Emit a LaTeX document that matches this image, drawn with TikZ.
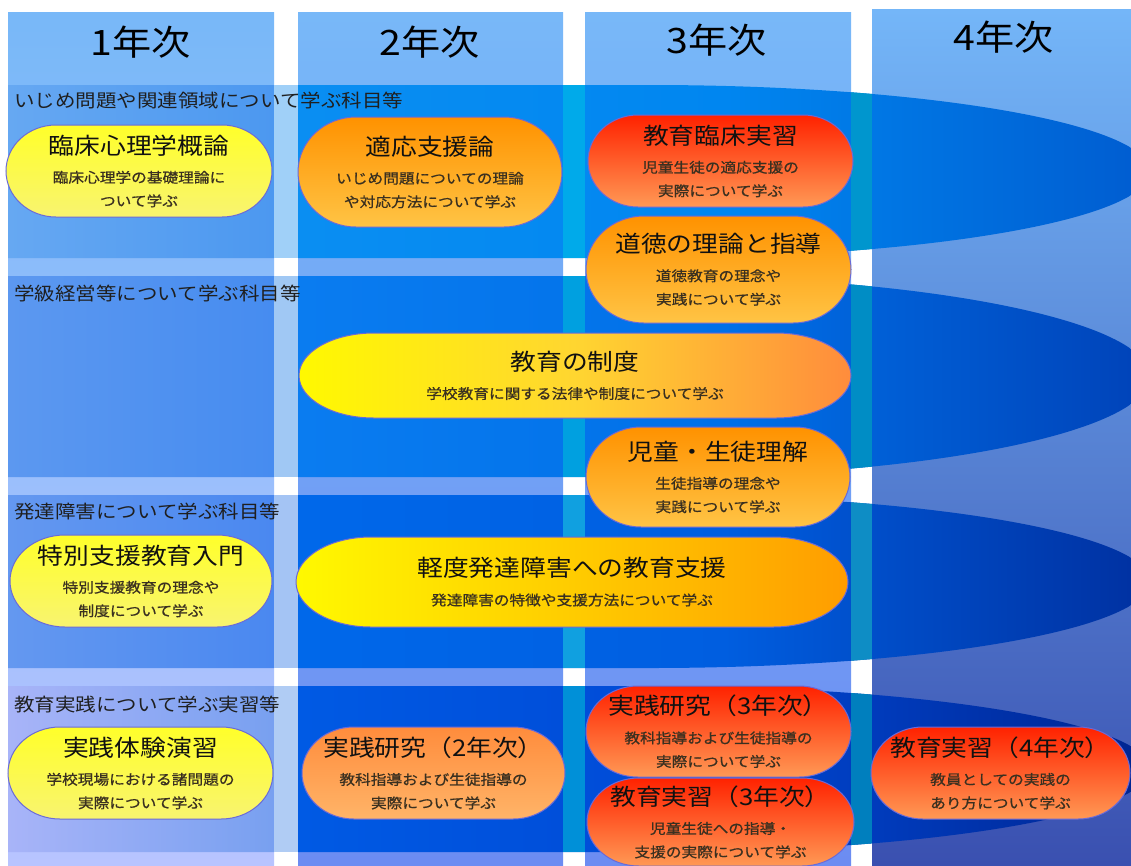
\documentclass[tikz,border=0pt]{standalone}
\usepackage{fontspec}
\setmainfont[FakeStretch=1.12]{Noto Sans CJK JP}
\newfontfamily\subfam[FakeStretch=1.12,FakeBold=0.8]{Noto Sans CJK JP}
\usetikzlibrary{calc}
\definecolor{colT}{HTML}{78B8F8}
\definecolor{colOneB}{HTML}{B8C4FF}
\definecolor{colMidB}{HTML}{6C8CF2}
\definecolor{colFourT}{HTML}{74B6F8}
\definecolor{colFourB}{HTML}{3A50B0}
\definecolor{bord}{HTML}{6A6AD8}
\definecolor{titlec}{HTML}{111111}
\definecolor{subc}{HTML}{3A3020}
\definecolor{yelT}{HTML}{FFFF2A}
\definecolor{yelB}{HTML}{F8F470}
\definecolor{oraT}{HTML}{FF9200}
\definecolor{oraB}{HTML}{FFC445}
\definecolor{redT}{HTML}{FF2200}
\definecolor{redB}{HTML}{FF9955}
\definecolor{salT}{HTML}{FF8C3C}
\definecolor{salB}{HTML}{FFB468}
% band colours
\definecolor{aOneL}{HTML}{66A8F2}\definecolor{aOneR}{HTML}{4C98F0}\definecolor{aGapOne}{HTML}{A0D0F8}
\definecolor{aML}{HTML}{0A8EF2}\definecolor{aMM}{HTML}{0086F0}\definecolor{aMR}{HTML}{005CD0}\definecolor{aGap}{HTML}{00AAEA}
\definecolor{bOneL}{HTML}{5C98F0}\definecolor{bOneR}{HTML}{468CF0}\definecolor{bGapOne}{HTML}{A0C8F4}
\definecolor{bML}{HTML}{0A7CF0}\definecolor{bMM}{HTML}{0070E8}\definecolor{bMR}{HTML}{0042B8}\definecolor{bGap}{HTML}{00A0E0}
\definecolor{cOneL}{HTML}{6498F0}\definecolor{cOneR}{HTML}{4A88F0}\definecolor{cGapOne}{HTML}{A4C4F4}
\definecolor{cML}{HTML}{0068EA}\definecolor{cMM}{HTML}{005EE0}\definecolor{cMR}{HTML}{0030A0}\definecolor{cGap}{HTML}{10A0E0}
\definecolor{dOneL}{HTML}{A8B4F8}\definecolor{dOneR}{HTML}{78A0F0}\definecolor{dGapOne}{HTML}{B0CCF4}
\definecolor{dML}{HTML}{005AE4}\definecolor{dMM}{HTML}{0048D4}\definecolor{dMR}{HTML}{002490}\definecolor{dGap}{HTML}{0090D8}
\newcommand\titlef{\normalfont\fontsize{23}{26}\selectfont}
\newcommand\subf{\subfam\fontsize{14}{23.5}\selectfont}
\newcommand\bandshape[9]{%
  \pgfmathsetmacro\bandry{(#2-#1)/2}%
  \begin{scope}
    \clip (8,-#1) -- (650,-#1) arc[start angle=90,end angle=-90,x radius=500,y radius=\bandry] -- (8,-#2) -- cycle;
    \shade[left color=#3,right color=#4] (8,-#1) rectangle (274,-#2);
    \shade[left color=#6,right color=#8,middle color=#7] (298,-#1) rectangle (1150,-#2);
    \fill[#5] (274,-#1) rectangle (298,-#2);
    \fill[#9] (563,-#1) rectangle (585,-#2);
    \fill[#9!88!black] (851,-#1) rectangle (872,-#2);
  \end{scope}}
\newcommand\pill[8]{%
  \pgfmathsetmacro\pillry{(#6-#4)/2}%
  \path[pillbase,#2] (#3+#7,-#4) -- (#5-#7,-#4) arc[start angle=90,end angle=-90,x radius=#7,y radius=\pillry]
     -- (#3+#7,-#6) arc[start angle=270,end angle=90,x radius=#7,y radius=\pillry] -- cycle;
  \node[boxtext] (#1) at ({(#3+#5)/2},{-(#4+#6)/2}) {#8};}
\newcommand\ttl[1]{{\color{titlec}\titlef #1}\\[5pt]}
\tikzset{
  pillbase/.style={draw=bord,line width=1pt},
  yelfill/.style={top color=yelT,bottom color=yelB},
  orafill/.style={top color=oraT,bottom color=oraB},
  redfill/.style={top color=redT,bottom color=redB},
  salfill/.style={top color=salT,bottom color=salB},
  hfillA/.style={left color=yellow!95!orange,right color=salT,middle color=oraB!70!yellow},
  hfillB/.style={left color=yellow!95!orange,right color=oraT!90!yellow,middle color=yellow!60!orange},
  boxtext/.style={inner sep=0pt,align=center,font=\subf,text=subc},
  header/.style={inner sep=0pt,font=\fontsize{35}{40}\selectfont,text=black},
  bandlabel/.style={inner sep=0pt,anchor=west,font=\fontsize{18.3}{22}\selectfont,text=black!88}
}
\begin{document}
\begin{tikzpicture}[x=1pt,y=1pt]
\useasboundingbox (0,0) rectangle (1131,-865);
\clip (0,0) rectangle (1131,-865);
\fill[white] (0,0) rectangle (1131,-865);
% columns
\shade[top color=colT,bottom color=colOneB] (8,-12) rectangle (274,-865);
\shade[top color=colT,bottom color=colMidB] (298,-12) rectangle (563,-865);
\shade[top color=colT,bottom color=colMidB] (585,-12) rectangle (851,-865);
\shade[top color=colFourT,bottom color=colFourB] (872,-9) rectangle (1131,-865);
% bands
\bandshape{85}{258}{aOneL}{aOneR}{aGapOne}{aML}{aMM}{aMR}{aGap}
\bandshape{276}{477}{bOneL}{bOneR}{bGapOne}{bML}{bMM}{bMR}{bGap}
\bandshape{495}{668}{cOneL}{cOneR}{cGapOne}{cML}{cMM}{cMR}{cGap}
\bandshape{686}{852}{dOneL}{dOneR}{dGapOne}{dML}{dMM}{dMR}{dGap}
% headers
\node[header] (h1) at (141,-42) {1年次};
\node[header] (h2) at (430,-42) {2年次};
\node[header] (h3) at (717,-40) {3年次};
\node[header] (h4) at (1004,-37) {4年次};
% band labels
\node[bandlabel] (l1) at (14,-101) {いじめ問題や関連領域について学ぶ科目等};
\node[bandlabel] (l2) at (14,-294) {学級経営等について学ぶ科目等};
\node[bandlabel] (l3) at (14,-512) {発達障害について学ぶ科目等};
\node[bandlabel] (l4) at (14,-705) {教育実践について学ぶ実習等};
% course boxes
\pill{rinsho}{yelfill}{6}{125}{272}{217}{50}{\ttl{臨床心理学概論}臨床心理学の基礎理論に\\ついて学ぶ}
\pill{tekio}{orafill}{298}{117}{562}{227}{58}{\ttl{適応支援論}いじめ問題についての理論\\や対応方法について学ぶ}
\pill{kyorin}{redfill}{588}{115}{853}{207}{50}{\ttl{教育臨床実習}児童生徒の適応支援の\\実際について学ぶ}
\pill{dotoku}{orafill}{586}{216}{851}{323}{58}{\ttl{道徳の理論と指導}道徳教育の理念や\\実践について学ぶ}
\pill{seido}{hfillA}{299}{333}{851}{418}{75}{\ttl{教育の制度}学校教育に関する法律や制度について学ぶ}
\pill{jido}{orafill}{586}{427}{850}{527}{55}{\ttl{児童・生徒理解}生徒指導の理念や\\実践について学ぶ}
\pill{tokubetsu}{yelfill}{10}{535}{272}{627}{55}{\ttl{特別支援教育入門}特別支援教育の理念や\\制度について学ぶ}
\pill{keido}{hfillB}{296}{537}{848}{627}{75}{\ttl{軽度発達障害への教育支援}発達障害の特徴や支援方法について学ぶ}
\pill{taiken}{yelfill}{8}{727}{273}{819}{52}{\ttl{実践体験演習}学校現場における諸問題の\\実際について学ぶ}
\pill{kenkyuB}{salfill}{302}{727}{565}{819}{52}{\ttl{実践研究（2年次）}教科指導および生徒指導の\\実際について学ぶ}
\pill{kenkyuC}{redfill}{586}{686}{851}{777}{52}{\ttl{実践研究（3年次）}教科指導および生徒指導の\\実際について学ぶ}
\pill{jisshuC}{redfill}{587}{778}{854}{866}{52}{\ttl{教育実習（3年次）}児童生徒への指導・\\支援の実際について学ぶ}
\pill{jisshuD}{redfill}{871}{727}{1130}{819}{52}{\ttl{教育実習（4年次）}教員としての実践の\\あり方について学ぶ}
\end{tikzpicture}
\end{document}
